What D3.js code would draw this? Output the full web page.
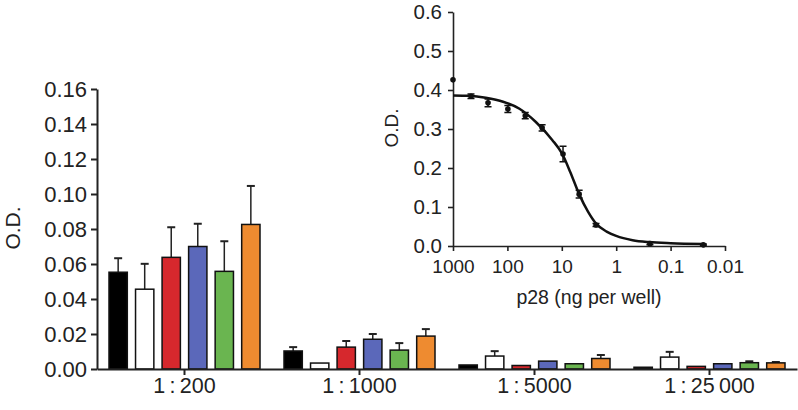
<!DOCTYPE html>
<html>
<head>
<meta charset="utf-8">
<script src="https://cdn.jsdelivr.net/npm/d3@7"></script>
<style>
  body { margin: 0; background: #fff; }
  svg { font-family: "Liberation Sans", Arial, sans-serif; }
  .axis path, .axis line { stroke: #222; }
  .axis text { fill: #222; }
</style>
</head>
<body>
<div id="chart"></div>
<script>
// main bar chart
const dilutions = ['1:200', '1:1000', '1:5000', '1:25000']
const dilutionLabels = ['1\u2009:\u2009200', '1\u2009:\u20091000', '1\u2009:\u20095000', '1\u2009:\u200925\u2009000']
const series = ['s1', 's2', 's3', 's4', 's5', 's6']
const seriesColors = ['#000000', '#ffffff', '#d6282d', '#5b68ba', '#6ab550', '#ee8b30']
const barValues = [
    [0.0553, 0.0456, 0.0638, 0.0700, 0.0558, 0.0826],
    [0.0103, 0.0034, 0.0125, 0.0170, 0.0108, 0.0188],
    [0.0023, 0.0074, 0.0020, 0.0045, 0.0030, 0.0060],
    [0.0010, 0.0068, 0.0015, 0.0030, 0.0036, 0.0035]
]
const barErrors = [
    [0.0080, 0.0145, 0.0172, 0.0130, 0.0172, 0.0220],
    [0.0022, 0.0000, 0.0035, 0.0030, 0.0040, 0.0040],
    [0.0000, 0.0028, 0.0000, 0.0000, 0.0000, 0.0020],
    [0.0000, 0.0030, 0.0000, 0.0000, 0.0008, 0.0005]
]
const mainTicks = [0, 0.02, 0.04, 0.06, 0.08, 0.10, 0.12, 0.14, 0.16]

// inset competition curve
const insetDose = [1000, 467, 227, 98, 47, 23, 9.5, 4.8, 2.35, 0.24, 0.025]
const insetOD = [0.426, 0.384, 0.367, 0.351, 0.334, 0.303, 0.236, 0.133, 0.054, 0.006, 0.003]
const insetErr = [0, 0.006, 0.010, 0.009, 0.008, 0.008, 0.020, 0.010, 0.004, 0.003, 0.002]
const fitDose = [1000, 500, 250, 120, 60, 30, 15, 10, 7, 4.8, 3.3, 2.3, 1.5, 1, 0.5, 0.25, 0.1, 0.025]
const fitOD = [0.386, 0.385, 0.380, 0.370, 0.352, 0.318, 0.272, 0.238, 0.190, 0.133, 0.088, 0.056, 0.037, 0.026, 0.015, 0.010, 0.007, 0.005]
const insetYTicks = [0, 0.1, 0.2, 0.3, 0.4, 0.5, 0.6]
const insetXTicks = [1000, 100, 10, 1, 0.1, 0.01]
const insetXLabels = ['1000', '100', '10', '1', '0.1', '0.01']

const width = 798
const height = 410

const svg = d3.select('#chart')
    .append('svg')
    .attr('width', width)
    .attr('height', height)

// ---- main chart
const x0 = d3.scaleBand()
    .domain(dilutions)
    .range([97, 797])

const x1 = d3.scaleBand()
    .domain(series)
    .range([0, 151])
    .paddingInner(0.31)

const y = d3.scaleLinear()
    .domain([0, 0.16])
    .range([369, 89])

const yAxis = svg.append('g')
    .attr('class', 'axis')
    .attr('transform', 'translate(97,0)')
    .call(d3.axisLeft(y)
        .tickValues(mainTicks)
        .tickFormat(d3.format('.2f'))
        .tickSize(6)
        .tickSizeOuter(0)
        .tickPadding(4))
yAxis.selectAll('path, line').attr('stroke-width', 2)
yAxis.selectAll('text').attr('font-size', 22)

const groups = svg.append('g')
    .selectAll('g')
    .data(dilutions)
    .join('g')
    .attr('transform', d => 'translate(' + (x0(d) + x0.bandwidth() / 2 - 75.5) + ',0)')

groups.each(function (dil, gi) {
    const g = d3.select(this)
    const rows = series.map((s, i) => ({s, i, v: barValues[gi][i], e: barErrors[gi][i]}))

    // error whiskers (upper only)
    const withErr = rows.filter(r => r.e > 0)
    g.selectAll('line.err')
        .data(withErr)
        .join('line')
        .attr('class', 'err')
        .attr('x1', r => x1(r.s) + x1.bandwidth() / 2)
        .attr('x2', r => x1(r.s) + x1.bandwidth() / 2)
        .attr('y1', r => y(r.v))
        .attr('y2', r => y(r.v + r.e))
        .attr('stroke', '#222')
        .attr('stroke-width', 1.5)
    g.selectAll('line.cap')
        .data(withErr)
        .join('line')
        .attr('class', 'cap')
        .attr('x1', r => x1(r.s) + x1.bandwidth() / 2 - 4)
        .attr('x2', r => x1(r.s) + x1.bandwidth() / 2 + 4)
        .attr('y1', r => y(r.v + r.e))
        .attr('y2', r => y(r.v + r.e))
        .attr('stroke', '#222')
        .attr('stroke-width', 2)

    g.selectAll('rect')
        .data(rows)
        .join('rect')
        .attr('x', r => x1(r.s))
        .attr('width', x1.bandwidth())
        .attr('y', r => y(r.v))
        .attr('height', r => y(0) - y(r.v))
        .attr('fill', r => seriesColors[r.i])
        .attr('stroke', '#111')
        .attr('stroke-width', 1.5)
})

const xAxis = svg.append('g')
    .attr('class', 'axis')
    .attr('transform', 'translate(0,' + y(0) + ')')
    .call(d3.axisBottom(x0)
        .tickSize(6)
        .tickSizeOuter(0)
        .tickPadding(3)
        .tickFormat((d, i) => dilutionLabels[i]))
xAxis.selectAll('path, line').attr('stroke-width', 2)
xAxis.selectAll('text').attr('font-size', 21.5)

svg.append('text')
    .attr('transform', 'translate(20,228) rotate(-90)')
    .attr('text-anchor', 'middle')
    .attr('font-size', 21)
    .attr('fill', '#222')
    .text('O.D.')

// ---- inset
const ix = d3.scaleLog()
    .domain([1000, 0.01])
    .range([453, 725])

const iy = d3.scaleLinear()
    .domain([0, 0.6])
    .range([246, 12])

const iyAxis = svg.append('g')
    .attr('class', 'axis')
    .attr('transform', 'translate(453,0)')
    .call(d3.axisLeft(iy)
        .tickValues(insetYTicks)
        .tickFormat(d3.format('.1f'))
        .tickSize(5)
        .tickSizeOuter(0)
        .tickPadding(6))
iyAxis.selectAll('path, line').attr('stroke-width', 1.6)
iyAxis.selectAll('text').attr('font-size', 20.5)

const ixAxis = svg.append('g')
    .attr('class', 'axis')
    .attr('transform', 'translate(0,246)')
    .call(d3.axisBottom(ix)
        .tickValues(insetXTicks)
        .tickFormat((d, i) => insetXLabels[i])
        .tickSize(5)
        .tickSizeOuter(0)
        .tickPadding(9))
ixAxis.selectAll('path, line').attr('stroke-width', 1.6)
ixAxis.selectAll('text').attr('font-size', 19)

svg.append('text')
    .attr('transform', 'translate(398,128) rotate(-90)')
    .attr('text-anchor', 'middle')
    .attr('font-size', 19)
    .attr('fill', '#222')
    .text('O.D.')

svg.append('text')
    .attr('x', 589)
    .attr('y', 304)
    .attr('text-anchor', 'middle')
    .attr('font-size', 19.5)
    .attr('fill', '#222')
    .text('p28 (ng per well)')

const fit = fitDose.map((d, i) => [ix(d), iy(fitOD[i])])
svg.append('path')
    .attr('d', d3.line().curve(d3.curveMonotoneX)(fit))
    .attr('fill', 'none')
    .attr('stroke', '#111')
    .attr('stroke-width', 2.5)

const pts = insetDose.map((d, i) => ({d, v: insetOD[i], e: insetErr[i]}))
const ipts = svg.append('g')
ipts.selectAll('path.ebar')
    .data(pts.filter(p => p.e > 0))
    .join('path')
    .attr('class', 'ebar')
    .attr('d', p => {
        const cx = ix(p.d), t = iy(p.v + p.e), b = iy(p.v - p.e)
        return 'M' + (cx - 3.5) + ',' + t + 'H' + (cx + 3.5) +
            'M' + cx + ',' + t + 'V' + b +
            'M' + (cx - 3.5) + ',' + b + 'H' + (cx + 3.5)
    })
    .attr('fill', 'none')
    .attr('stroke', '#111')
    .attr('stroke-width', 1.5)
ipts.selectAll('circle')
    .data(pts)
    .join('circle')
    .attr('cx', p => ix(p.d))
    .attr('cy', p => iy(p.v))
    .attr('r', 2.8)
    .attr('fill', '#111')
</script>
</body>
</html>
